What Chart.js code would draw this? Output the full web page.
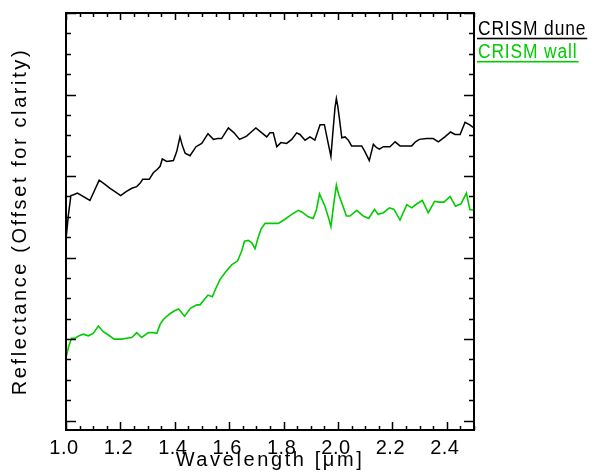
<!DOCTYPE html>
<html>
<head>
<meta charset="utf-8">
<script src="https://cdn.jsdelivr.net/npm/chart.js@4.4.1/dist/chart.umd.min.js"></script>
<style>
  html, body { margin: 0; padding: 0; background: #fff; }
  canvas { display: block; }
</style>
</head>
<body>
<canvas id="spectraChart" width="595" height="473"></canvas>
<script>
// wavelength (um) and offset reflectance
const duneWl = [1.000, 1.009, 1.018, 1.028, 1.042, 1.088, 1.122, 1.142, 1.162, 1.180, 1.201, 1.221, 1.242, 1.260, 1.272, 1.282,
  1.306, 1.321, 1.335, 1.346, 1.354, 1.370, 1.395, 1.407, 1.419, 1.428, 1.438, 1.456, 1.478, 1.499, 1.522, 1.542,
  1.557, 1.572, 1.597, 1.618, 1.638, 1.664, 1.684, 1.698, 1.720, 1.738, 1.750, 1.762, 1.775, 1.790, 1.811, 1.830,
  1.848, 1.860, 1.879, 1.897, 1.915, 1.934, 1.950, 1.964, 1.974, 1.982, 1.989, 1.994, 1.999, 2.005, 2.014, 2.026,
  2.038, 2.050, 2.069, 2.087, 2.099, 2.115, 2.130, 2.141, 2.152, 2.167, 2.191, 2.210, 2.228, 2.250, 2.271, 2.285,
  2.299, 2.325, 2.350, 2.369, 2.393, 2.414, 2.430, 2.449, 2.467, 2.483, 2.500];
const duneRefl = [0.222, 0.253, 0.276, 0.277, 0.279, 0.270, 0.295, 0.290, 0.285, 0.281, 0.276, 0.281, 0.285, 0.287, 0.291, 0.296,
  0.296, 0.304, 0.308, 0.312, 0.321, 0.318, 0.319, 0.330, 0.348, 0.337, 0.328, 0.325, 0.336, 0.340, 0.352, 0.345,
  0.346, 0.346, 0.359, 0.353, 0.345, 0.349, 0.355, 0.359, 0.353, 0.348, 0.353, 0.353, 0.336, 0.341, 0.340, 0.345,
  0.353, 0.351, 0.344, 0.348, 0.344, 0.363, 0.363, 0.340, 0.324, 0.357, 0.384, 0.395, 0.386, 0.371, 0.347, 0.348,
  0.344, 0.337, 0.337, 0.337, 0.330, 0.319, 0.339, 0.335, 0.333, 0.336, 0.336, 0.342, 0.337, 0.337, 0.337, 0.342,
  0.345, 0.346, 0.346, 0.342, 0.348, 0.354, 0.351, 0.351, 0.366, 0.363, 0.359];

const wallWl = [1.000, 1.009, 1.020, 1.033, 1.048, 1.064, 1.082, 1.100, 1.119, 1.137, 1.156, 1.177, 1.191, 1.205, 1.222, 1.242,
  1.260, 1.278, 1.303, 1.318, 1.334, 1.346, 1.358, 1.370, 1.386, 1.401, 1.414, 1.436, 1.458, 1.481, 1.493, 1.507,
  1.522, 1.538, 1.552, 1.566, 1.588, 1.609, 1.631, 1.646, 1.656, 1.670, 1.683, 1.695, 1.706, 1.717, 1.732, 1.754,
  1.781, 1.805, 1.830, 1.854, 1.867, 1.891, 1.909, 1.921, 1.932, 1.952, 1.965, 1.974, 1.984, 1.994, 2.001, 2.014,
  2.031, 2.044, 2.069, 2.093, 2.113, 2.134, 2.148, 2.167, 2.189, 2.206, 2.228, 2.253, 2.271, 2.290, 2.310, 2.332,
  2.355, 2.371, 2.390, 2.412, 2.432, 2.452, 2.472, 2.485, 2.500];
const wallRefl = [0.077, 0.090, 0.101, 0.101, 0.104, 0.106, 0.104, 0.107, 0.116, 0.109, 0.105, 0.100, 0.100, 0.100, 0.101, 0.102,
  0.108, 0.102, 0.108, 0.108, 0.107, 0.118, 0.124, 0.128, 0.132, 0.135, 0.137, 0.128, 0.138, 0.142, 0.142, 0.148,
  0.154, 0.152, 0.163, 0.173, 0.183, 0.191, 0.196, 0.208, 0.220, 0.221, 0.218, 0.211, 0.224, 0.235, 0.242, 0.242,
  0.242, 0.247, 0.253, 0.258, 0.256, 0.250, 0.248, 0.259, 0.278, 0.263, 0.249, 0.238, 0.265, 0.289, 0.279, 0.267,
  0.251, 0.251, 0.258, 0.251, 0.248, 0.259, 0.253, 0.255, 0.261, 0.259, 0.246, 0.265, 0.261, 0.266, 0.270, 0.255,
  0.269, 0.268, 0.268, 0.275, 0.263, 0.266, 0.279, 0.259, 0.258];

const seriesLabels = ['CRISM dune', 'CRISM wall'];
const seriesColors = ['#000000', '#00cc00'];

const xTickValues = [1.0, 1.2, 1.4, 1.6, 1.8, 2.0, 2.2, 2.4];
const yMajorTicks = [0, 0.1, 0.2, 0.3, 0.4, 0.5];

function toPoints(xs, ys) {
  return xs.map((x, i) => ({ x: x, y: ys[i] }));
}

// IDL style frame: box with inward ticks on all four sides
const frameTicks = {
  id: 'frameTicks',
  beforeDraw(chart) {
    // axis titles are drawn before the datasets, tick labels after (ticks.z = 1)
    chart.ctx.letterSpacing = '2.6px';
  },
  afterDatasetsDraw(chart) {
    const { ctx, chartArea: a, scales: { x, y } } = chart;
    ctx.save();
    ctx.strokeStyle = '#000';
    ctx.lineWidth = 1.5;
    ctx.beginPath();
    for (let i = 0; i <= 30; i++) {
      const v = 1.0 + i * 0.05;
      const px = Math.round(x.getPixelForValue(v)) + 0.5;
      const major = xTickValues.some(t => Math.abs(t - v) < 1e-6);
      ctx.moveTo(px, a.bottom);
      ctx.lineTo(px, a.bottom - (major ? 8 : 4));
      ctx.moveTo(px, a.top);
      ctx.lineTo(px, a.top + (major ? 7 : 4));
    }
    for (let i = 0; i <= 20; i++) {
      const v = i * 0.025;
      const py = Math.round(y.getPixelForValue(v)) + 0.5;
      const major = yMajorTicks.some(t => Math.abs(t - v) < 1e-6);
      const len = major ? 10 : 5;
      ctx.moveTo(a.left, py);
      ctx.lineTo(a.left + len, py);
      ctx.moveTo(a.right, py);
      ctx.lineTo(a.right - len, py);
    }
    ctx.stroke();
    ctx.lineWidth = 2;
    ctx.strokeRect(a.left, a.top, a.right - a.left, a.bottom - a.top);
    ctx.restore();
    ctx.letterSpacing = '0.5px';
  },
  afterDraw(chart) {
    // legend: coloured label text with an underline, right of the plot
    const { ctx, chartArea: a } = chart;
    ctx.save();
    ctx.font = '20px "Liberation Sans", Arial, sans-serif';
    ctx.letterSpacing = '1px';
    ctx.textBaseline = 'alphabetic';
    chart.data.datasets.forEach((ds, i) => {
      const tx = a.right + 4;
      const ty = 34.5 + i * 23.2;
      const sx = 0.87;
      const w = ctx.measureText(ds.label).width * sx;
      ctx.fillStyle = ds.borderColor;
      ctx.save();
      ctx.translate(tx, ty);
      ctx.scale(sx, 1);
      ctx.fillText(ds.label, 0, 0);
      ctx.restore();
      ctx.fillRect(tx - 1, ty + 3.2, w + 2, 1.6);
    });
    ctx.restore();
  }
};

const ctx = document.getElementById('spectraChart').getContext('2d');
const spectraChart = new Chart(ctx, {
  type: 'line',
  data: {
    datasets: [{
      label: seriesLabels[0],
      data: toPoints(duneWl, duneRefl),
      borderColor: seriesColors[0],
      backgroundColor: seriesColors[0],
      borderWidth: 1.5,
      pointRadius: 0,
      tension: 0,
      fill: false
    }, {
      label: seriesLabels[1],
      data: toPoints(wallWl, wallRefl),
      borderColor: seriesColors[1],
      backgroundColor: seriesColors[1],
      borderWidth: 1.6,
      pointRadius: 0,
      tension: 0,
      fill: false
    }]
  },
  options: {
    responsive: false,
    animation: false,
    layout: { padding: { top: 13, right: 121, left: 0, bottom: 0 } },
    plugins: {
      legend: { display: false },
      tooltip: { enabled: false }
    },
    scales: {
      x: {
        type: 'linear',
        min: 1.0,
        max: 2.5,
        grid: { display: false },
        border: { display: false },
        afterBuildTicks: (scale) => { scale.ticks = xTickValues.map(v => ({ value: v })); },
        afterFit: (scale) => { scale.height = 43; },
        ticks: {
          z: 1,
          color: '#000',
          padding: 0,
          labelOffset: -2,
          maxRotation: 0,
          autoSkip: false,
          font: { family: '"Liberation Sans", Arial, sans-serif', size: 20, lineHeight: 1 },
          callback: (v) => Number(v).toFixed(1)
        },
        title: {
          display: true,
          text: 'Wavelength [\u03bcm]',
          color: '#000',
          padding: { top: 0, bottom: 1 },
          font: { family: '"Liberation Sans", Arial, sans-serif', size: 20 }
        }
      },
      y: {
        min: -0.0115,
        max: 0.5,
        grid: { display: false },
        border: { display: false },
        ticks: { display: false },
        afterFit: (scale) => { scale.width = 66; },
        title: {
          display: true,
          text: 'Reflectance (Offset for clarity)',
          color: '#000',
          padding: { top: 8, bottom: 0 },
          font: { family: '"Liberation Sans", Arial, sans-serif', size: 20 }
        }
      }
    }
  },
  plugins: [frameTicks]
});
</script>
</body>
</html>
